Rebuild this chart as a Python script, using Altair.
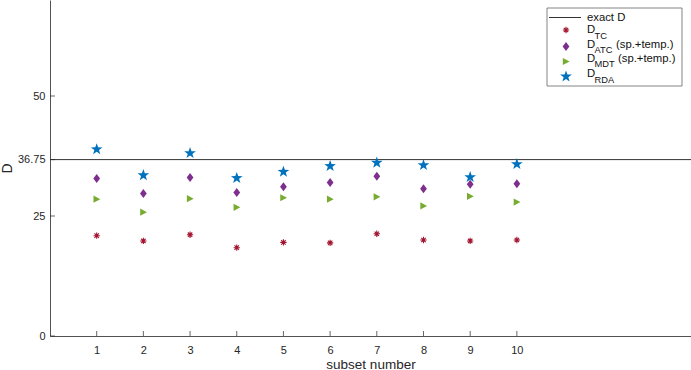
import altair as alt
import pandas as pd

subsets = [1, 2, 3, 4, 5, 6, 7, 8, 9, 10]
d_tc = [20.9, 19.8, 21.1, 18.4, 19.5, 19.4, 21.3, 20.0, 19.8, 20.0]
d_atc = [32.8, 29.7, 33.0, 29.9, 31.1, 32.0, 33.3, 30.7, 31.6, 31.7]
d_mdt = [28.5, 25.8, 28.6, 26.8, 28.8, 28.5, 29.0, 27.1, 29.1, 27.9]
d_rda = [38.9, 33.5, 38.1, 32.9, 34.2, 35.4, 36.1, 35.6, 33.1, 35.8]
exact_d = 36.75
y_ticks = [0, 25, 36.75, 50]
x_ticks = [1, 2, 3, 4, 5, 6, 7, 8, 9, 10]

W, H = 641, 336
FONT = "Liberation Sans"
AX = "#262626"

df = pd.DataFrame({"s": subsets, "tc": d_tc, "atc": d_atc, "mdt": d_mdt, "rda": d_rda})

xs = alt.Scale(domain=[0, 13.73], nice=False, zero=False)
ys = alt.Scale(domain=[0, 70], nice=False)

STAR = "M0,-1L0.235,-0.324L0.951,-0.309L0.38,0.124L0.588,0.809L0,0.4L-0.588,0.809L-0.38,0.124L-0.951,-0.309L-0.235,-0.324Z"
DIAM = "M0,-1L0.75,0L0,1L-0.75,0Z"
TRI = "M-0.8,-0.9L0.9,0L-0.8,0.9Z"
AST = "M-1,0L1,0M0,-1L0,1M-0.7,-0.7L0.7,0.7M-0.7,0.7L0.7,-0.7"

C_TC, C_ATC, C_MDT, C_RDA = "#A2142F", "#7E2F8E", "#77AC30", "#0072BD"

base = alt.Chart(df)

xaxis = alt.Axis(values=x_ticks, ticks=False, labelFont=FONT, labelFontSize=11, labelColor=AX,
                 domainColor=AX, grid=False, title="subset number", titleFont=FONT,
                 titleFontSize=13.5, titleFontWeight="normal", titleColor=AX, labelPadding=8, titlePadding=2)
yaxis = alt.Axis(values=y_ticks, ticks=False, format=".4~g", labelFont=FONT, labelFontSize=11, labelColor=AX,
                 domainColor=AX, grid=False, title="D", titleFont=FONT, titleFontSize=14,
                 titleFontWeight="normal", titleColor=AX, labelPadding=5, titlePadding=3)

exact = alt.Chart(pd.DataFrame({"v": [exact_d]})).mark_rule(color="#333333", strokeWidth=1).encode(
    y=alt.Y("v:Q", scale=ys, axis=yaxis))

def pts(col, shape, color, size, filled=True, sw=0.5):
    return base.mark_point(shape=shape, size=size, filled=filled, opacity=1, color=color,
                           strokeWidth=sw).encode(
        x=alt.X("s:Q", scale=xs, axis=xaxis),
        y=alt.Y(f"{col}:Q", scale=ys, axis=yaxis))

p_tc = pts("tc", AST, C_TC, 40, filled=False, sw=1.1)
p_atc = pts("atc", DIAM, C_ATC, 81)
p_mdt = pts("mdt", TRI, C_MDT, 64)
p_rda = pts("rda", STAR, C_RDA, 150)

xt = alt.Chart(pd.DataFrame({"t": x_ticks})).mark_rule(color=AX, strokeWidth=0.7).encode(
    x=alt.X("t:Q", scale=xs), y=alt.value(H), y2=alt.value(H - 5))
yt = alt.Chart(pd.DataFrame({"t": y_ticks})).mark_rule(color=AX, strokeWidth=0.7).encode(
    y=alt.Y("t:Q", scale=ys), x=alt.value(0), x2=alt.value(5))

# Legend
one = pd.DataFrame({"a": [0]})
lg = alt.Chart(one)
box = lg.mark_rect(fill="white", stroke="#666666", strokeWidth=0.8).encode(
    x=alt.value(497), x2=alt.value(632), y=alt.value(8), y2=alt.value(86))
lline = lg.mark_rule(color="#333333", strokeWidth=1).encode(
    x=alt.value(499), x2=alt.value(531), y=alt.value(17.5), y2=alt.value(17.5))

def ltxt(t, x, y, size=11.3):
    return lg.mark_text(text=t, align="left", baseline="middle", font=FONT, fontSize=size,
                        color="#111111").encode(x=alt.value(x), y=alt.value(y))

def lsym(shape, color, size, y, filled=True, sw=0.5):
    return lg.mark_point(shape=shape, size=size, filled=filled, opacity=1, color=color,
                         strokeWidth=sw).encode(x=alt.value(516), y=alt.value(y))

SUB = 9.3
legend_layers = [
    box, lline, ltxt("exact D", 537, 17.5),
    lsym(AST, C_TC, 40, 30, filled=False, sw=1.1), ltxt("D", 537, 30), ltxt("TC", 544.5, 35.5, SUB),
    lsym(DIAM, C_ATC, 81, 46.5), ltxt("D", 537, 44.5), ltxt("ATC", 544.5, 50, SUB), ltxt("(sp.+temp.)", 566, 44.5),
    lsym(TRI, C_MDT, 64, 61.5), ltxt("D", 537, 58.5), ltxt("MDT", 544.5, 64, SUB), ltxt("(sp.+temp.)", 568, 58.5),
    lsym(STAR, C_RDA, 150, 76.5), ltxt("D", 537, 73.5), ltxt("RDA", 544.5, 80, SUB),
]

chart = alt.layer(exact, xt, yt, p_tc, p_atc, p_mdt, p_rda, *legend_layers).properties(
    width=W, height=H, autosize="none",
    padding={"left": 50, "top": 0, "right": 0, "bottom": 34},
).configure_view(stroke=None).configure_axis(domainWidth=0.8)

chart.save("out.html", embed_options={"renderer": "svg", "actions": False})
